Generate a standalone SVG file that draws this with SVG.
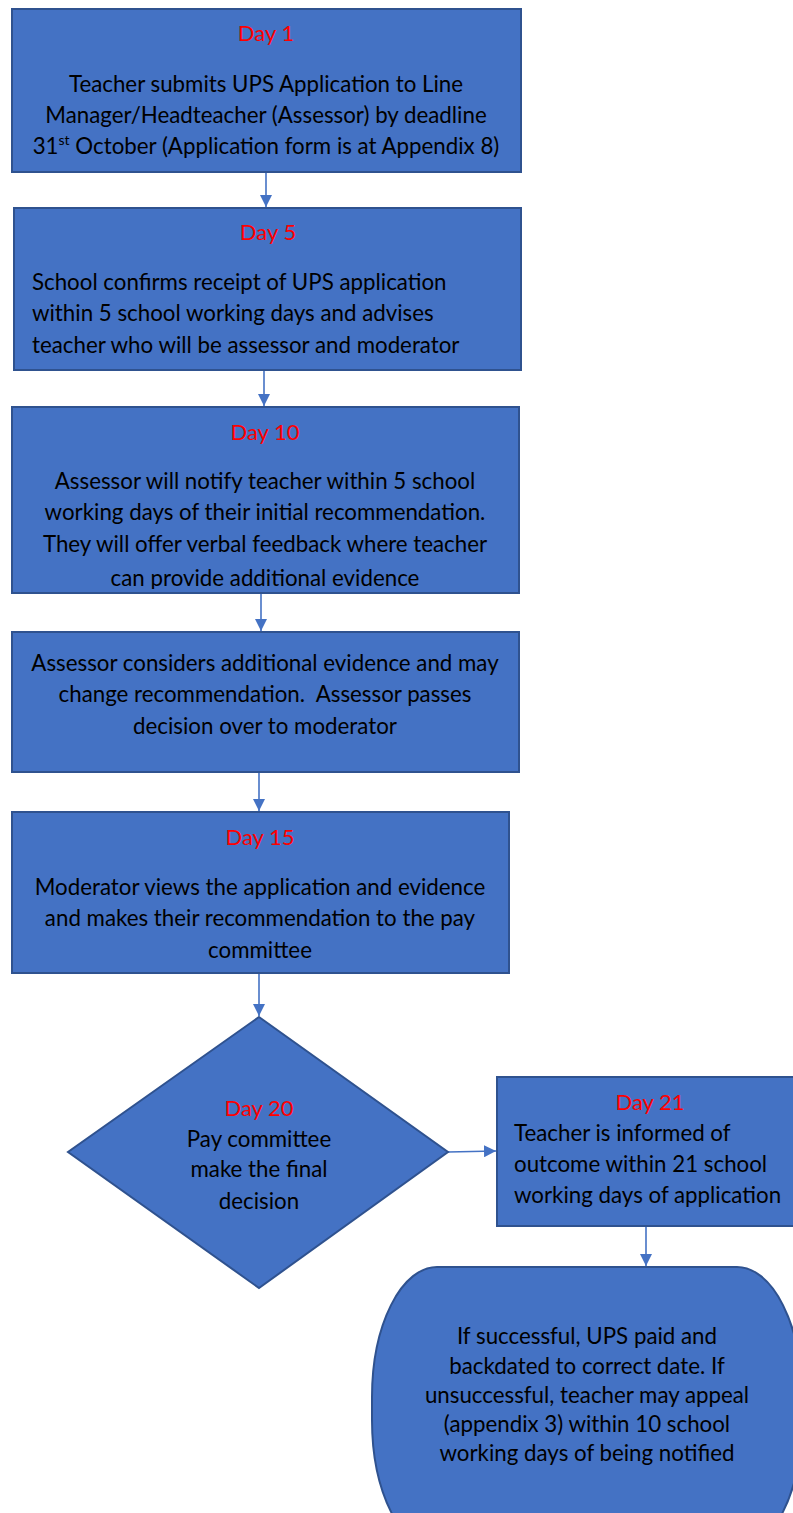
<svg xmlns="http://www.w3.org/2000/svg" width="793" height="1513" viewBox="0 0 793 1513">
<style>
.shape{fill:#4472C4;stroke:#2F528F;stroke-width:2}
.t{font-family:Lato,"Liberation Sans",sans-serif;font-size:22.3px;fill:#000}
.d{font-family:Lato,"Liberation Sans",sans-serif;font-size:22px;fill:#FF0000}
.c{text-anchor:middle}
.conn{stroke:#4472C4;stroke-width:1.6;fill:none;marker-end:url(#ah)}
</style>
<defs>
<marker id="ah" markerUnits="userSpaceOnUse" markerWidth="12" markerHeight="12" viewBox="0 0 12 12" refX="12" refY="6" orient="auto">
<path d="M0,0 L12,6 L0,12 Z" fill="#4472C4"/>
</marker>
<clipPath id="clip3"><rect x="13" y="408" width="505" height="181"/></clipPath>
</defs>
<rect width="793" height="1513" fill="#fff"/>
<g id="connectors">
<line class="conn" x1="266" y1="172" x2="266" y2="207"/>
<line class="conn" x1="264" y1="370" x2="264" y2="406"/>
<line class="conn" x1="261" y1="593" x2="261" y2="631"/>
<line class="conn" x1="259" y1="772" x2="259" y2="811"/>
<line class="conn" x1="259" y1="973" x2="259" y2="1016"/>
<line class="conn" x1="448" y1="1152" x2="496" y2="1151"/>
<line class="conn" x1="646" y1="1226" x2="646" y2="1266"/>
</g>
<g id="n1">
<rect class="shape" x="12" y="9" width="509" height="163"/>
<text class="d c" x="266" y="41">Day 1</text>
<text class="t c" x="266" y="92">Teacher submits UPS Application to Line</text>
<text class="t c" x="266" y="123">Manager/Headteacher (Assessor) by deadline</text>
<text class="t c" x="266" y="154">31<tspan font-size="14" dy="-9">st</tspan><tspan dy="9"> October (Application form is at Appendix 8)</tspan></text>
</g>
<g id="n2">
<rect class="shape" x="14" y="208" width="507" height="162"/>
<text class="d c" x="268" y="240">Day 5</text>
<text class="t" x="32" y="290">School confirms receipt of UPS application</text>
<text class="t" x="32" y="321">within 5 school working days and advises</text>
<text class="t" x="32" y="353">teacher who will be assessor and moderator</text>
</g>
<g id="n3">
<rect class="shape" x="12" y="407" width="507" height="186"/>
<g clip-path="url(#clip3)">
<text class="d c" x="265" y="440">Day 10</text>
<text class="t c" x="265" y="489">Assessor will notify teacher within 5 school</text>
<text class="t c" x="265" y="520">working days of their initial recommendation.</text>
<text class="t c" x="265" y="552">They will offer verbal feedback where teacher</text>
<text class="t c" x="265" y="586">can provide additional evidence</text>
</g>
</g>
<g id="n4">
<rect class="shape" x="12" y="632" width="507" height="140"/>
<text class="t c" x="265" y="671">Assessor considers additional evidence and may</text>
<text class="t c" x="265" y="702" xml:space="preserve">change recommendation.  Assessor passes</text>
<text class="t c" x="265" y="734">decision over to moderator</text>
</g>
<g id="n5">
<rect class="shape" x="12" y="812" width="497" height="161"/>
<text class="d c" x="260" y="845">Day 15</text>
<text class="t c" x="260" y="895">Moderator views the application and evidence</text>
<text class="t c" x="260" y="926">and makes their recommendation to the pay</text>
<text class="t c" x="260" y="958">committee</text>
</g>
<g id="n6">
<polygon class="shape" points="259,1017 448,1152 259,1288 68,1152"/>
<text class="d c" x="259" y="1116">Day 20</text>
<text class="t c" x="259" y="1147">Pay committee</text>
<text class="t c" x="259" y="1177">make the final</text>
<text class="t c" x="259" y="1209">decision</text>
</g>
<g id="n7">
<rect class="shape" x="497" y="1077" width="305" height="149"/>
<text class="d c" x="650" y="1110">Day 21</text>
<text class="t" x="514" y="1141">Teacher is informed of</text>
<text class="t" x="514" y="1172">outcome within 21 school</text>
<text class="t" x="514" y="1203">working days of application</text>
</g>
<g id="n8">
<path class="shape" d="M437,1267 L737,1267 A65,130 0 0 1 802,1397 L802,1420 A65,130 0 0 1 737,1550 L437,1550 A65,130 0 0 1 372,1420 L372,1397 A65,130 0 0 1 437,1267 Z"/>
<text class="t c" x="587" y="1344">If successful, UPS paid and</text>
<text class="t c" x="587" y="1374">backdated to correct date. If</text>
<text class="t c" x="587" y="1403">unsuccessful, teacher may appeal</text>
<text class="t c" x="587" y="1432">(appendix 3) within 10 school</text>
<text class="t c" x="587" y="1461">working days of being notified</text>
</g>
</svg>
